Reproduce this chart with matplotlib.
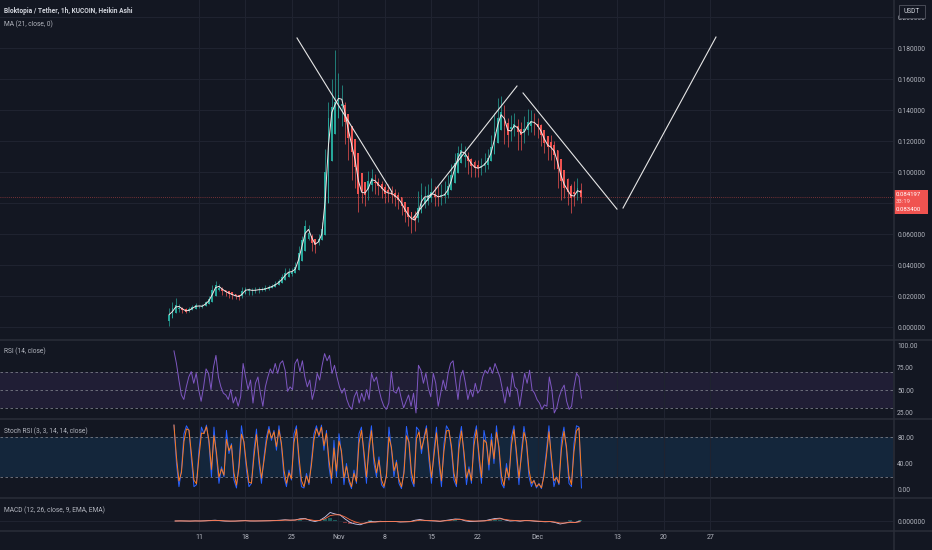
import numpy as np
import pandas as pd
import matplotlib
matplotlib.use('Agg')
import matplotlib.pyplot as plt
from matplotlib.patches import Rectangle
from matplotlib.lines import Line2D

plt.rcParams['font.family'] = ['Roboto', 'DejaVu Sans']

# ---- data (days counted from Oct 11; candles every 12 h) ----
candle_start = -4.5
candle_step = 0.5
first_open = 0.004
closes = [0.008, 0.012, 0.014, 0.0125, 0.011, 0.010, 0.0115, 0.0128, 0.014, 0.0132,
          0.0138, 0.016, 0.018, 0.024, 0.027, 0.0255, 0.0235, 0.0224, 0.0215, 0.0205,
          0.0198, 0.0195, 0.023, 0.0245, 0.0238, 0.0235, 0.024, 0.0242, 0.0242, 0.025,
          0.0258, 0.0265, 0.028, 0.0295, 0.032, 0.035, 0.0358, 0.0358, 0.039, 0.048,
          0.056, 0.065, 0.061, 0.054, 0.053, 0.057, 0.063, 0.100, 0.135, 0.142,
          0.145, 0.150, 0.144, 0.132, 0.122, 0.113, 0.103, 0.086, 0.088, 0.085,
          0.094, 0.096, 0.093, 0.091, 0.089, 0.086, 0.087, 0.0855, 0.084, 0.082,
          0.078, 0.074, 0.071, 0.069, 0.069, 0.077, 0.085, 0.083, 0.085, 0.087,
          0.084, 0.084, 0.085, 0.086, 0.091, 0.098, 0.106, 0.112, 0.114, 0.111,
          0.107, 0.104, 0.1025, 0.1025, 0.104, 0.106, 0.109, 0.116, 0.126, 0.135,
          0.139, 0.130, 0.124, 0.129, 0.131, 0.126, 0.124, 0.128, 0.132, 0.133,
          0.131, 0.129, 0.124, 0.119, 0.116, 0.116, 0.111, 0.102, 0.094, 0.090,
          0.087, 0.083, 0.086, 0.090, 0.0842]
highs = [0.012, 0.016, 0.019, 0.015, 0.013, 0.012, 0.013, 0.014, 0.0155, 0.0145,
         0.015, 0.017, 0.020, 0.027, 0.0297, 0.028, 0.026, 0.024, 0.023, 0.022,
         0.021, 0.021, 0.026, 0.026, 0.025, 0.025, 0.026, 0.026, 0.026, 0.027,
         0.027, 0.028, 0.030, 0.031, 0.034, 0.038, 0.038, 0.038, 0.042, 0.052,
         0.059, 0.069, 0.066, 0.060, 0.057, 0.060, 0.068, 0.115, 0.145, 0.160,
         0.179, 0.164, 0.156, 0.145, 0.135, 0.128, 0.118, 0.103, 0.098, 0.093,
         0.101, 0.102, 0.099, 0.096, 0.094, 0.092, 0.092, 0.091, 0.089, 0.087,
         0.084, 0.080, 0.076, 0.074, 0.075, 0.088, 0.093, 0.091, 0.092, 0.096,
         0.091, 0.091, 0.092, 0.094, 0.098, 0.105, 0.112, 0.117, 0.119, 0.117,
         0.113, 0.109, 0.108, 0.108, 0.109, 0.112, 0.115, 0.124, 0.138, 0.148,
         0.149, 0.143, 0.135, 0.137, 0.138, 0.134, 0.132, 0.136, 0.141, 0.140,
         0.138, 0.135, 0.131, 0.127, 0.123, 0.124, 0.120, 0.113, 0.104, 0.099,
         0.096, 0.092, 0.094, 0.096, 0.093]
lows = [0.001, 0.009, 0.011, 0.010, 0.009, 0.009, 0.010, 0.011, 0.012, 0.012,
        0.012, 0.014, 0.016, 0.018, 0.024, 0.023, 0.021, 0.020, 0.019, 0.018,
        0.018, 0.0175, 0.019, 0.022, 0.021, 0.021, 0.022, 0.022, 0.023, 0.023,
        0.024, 0.025, 0.026, 0.027, 0.029, 0.032, 0.033, 0.033, 0.035, 0.038,
        0.047, 0.055, 0.056, 0.049, 0.048, 0.053, 0.058, 0.063, 0.095, 0.125,
        0.135, 0.138, 0.130, 0.118, 0.108, 0.095, 0.090, 0.074, 0.080, 0.078,
        0.082, 0.088, 0.086, 0.085, 0.083, 0.080, 0.081, 0.080, 0.078, 0.076,
        0.072, 0.068, 0.065, 0.061, 0.062, 0.068, 0.076, 0.077, 0.079, 0.081,
        0.078, 0.078, 0.079, 0.080, 0.083, 0.090, 0.098, 0.104, 0.106, 0.103,
        0.099, 0.097, 0.097, 0.097, 0.098, 0.100, 0.102, 0.108, 0.115, 0.125,
        0.130, 0.118, 0.116, 0.120, 0.123, 0.114, 0.114, 0.119, 0.124, 0.126,
        0.124, 0.122, 0.117, 0.112, 0.108, 0.108, 0.102, 0.090, 0.082, 0.083,
        0.079, 0.0735, 0.078, 0.082, 0.080]
last_price = 0.084197
ma_value = 0.083400

# hand-drawn trend lines: (day0, price0, day1, price1)
trend_lines = [(14.76, 0.1865, 29.07, 0.0871),
               (32.23, 0.0703, 47.89, 0.1555),
               (48.80, 0.1510, 62.95, 0.0761),
               (63.86, 0.0768, 77.86, 0.1871)]

rsi_range = (-3.77, 57.6)
rsi = [94, 80, 61.6, 45, 40, 54, 65, 71, 58, 69,
       51, 38, 54, 74, 69, 51, 76, 89, 65, 54,
       47, 45, 40, 51, 36, 43, 32.5, 43, 80, 65,
       51, 61.6, 36, 58, 65, 47, 32.5, 54, 65, 74,
       69, 80, 69, 80, 83, 72.5, 49, 54, 51, 80,
       85, 71, 83, 65, 54, 61.6, 40, 51, 69, 61.6,
       78, 91, 83, 89, 69, 78, 65, 54, 47, 52.5,
       40, 32.5, 29, 43, 49, 36, 47, 38, 51, 40,
       69, 60, 65, 51, 40, 32.5, 29, 36, 71, 49,
       47, 54, 41.6, 30.7, 38, 45, 32.5, 47, 25, 78,
       72.5, 58, 69, 52.5, 43, 69, 58, 32.5, 47, 61.6,
       51, 69, 80, 83, 61.6, 40, 65, 72.5, 58, 40,
       51, 43, 58, 47, 51, 65, 72.5, 69, 76, 69,
       80, 72.5, 65, 51, 36, 54, 43, 69, 54, 51,
       32.5, 51, 69, 58, 72.5, 51, 47, 40, 36, 29,
       34, 32.5, 65, 51, 25, 30.7, 43, 51, 56, 38,
       29, 32.5, 54, 69, 65, 41.6]

stoch_range = (-3.77, 57.6)
stoch_k = [98, 40, 5, 30, 85, 97, 90, 45, 5, 8,
           60, 95, 85, 98, 70, 20, 95, 50, 10, 35,
           20, 90, 55, 70, 15, 3, 40, 97, 70, 30,
           5, 10, 60, 92, 40, 10, 50, 80, 96, 75,
           90, 60, 97, 65, 20, 5, 30, 15, 85, 97,
           40, 5, 3, 25, 8, 45, 85, 97, 80, 98,
           60, 90, 35, 10, 75, 20, 85, 55, 8, 40,
           12, 2, 30, 10, 85, 95, 50, 10, 70, 97,
           40, 20, 50, 8, 3, 25, 95, 60, 20, 45,
           10, 2, 30, 96, 70, 15, 5, 95, 90, 55,
           80, 97, 45, 10, 60, 95, 40, 5, 70, 97,
           90, 60, 15, 5, 75, 96, 50, 8, 35, 10,
           80, 97, 45, 10, 90, 70, 30, 85, 40, 97,
           60, 10, 3, 40, 15, 80, 97, 50, 8, 60,
           96, 70, 20, 5, 15, 3, 10, 2, 25, 60,
           97, 40, 5, 20, 8, 75, 95, 60, 10, 5,
           70, 97, 95, 3]

macd_range = (-3.6, 57.4)
macd = [0.0, 0.1, 0.0, -0.1, 0.1, 0.0, 0.2, 0.5, 0.8, 0.3,
        -0.1, -0.2, -0.1, 0.2, 0.4, 0.0, 0.0, 0.1, 0.2, 0.3,
        0.5, 0.8, 1.2, 0.8, 1.0, 2.2, 2.5, 0.5, -0.5, 0.8,
        4.0, 8.5, 7.0, 6.0, 2.0, -1.5, -3.0, -3.8, -2.0, -0.5,
        -0.8, -0.3, -0.6, -0.4, -0.5, -1.0, -0.8, -0.6, 0.8, 1.5,
        0.5, 0.2, 0.0, -0.4, 0.5, 1.2, 2.0, 1.8, 0.2, -0.5,
        -0.3, 0.0, 0.3, 1.5, 2.5, 2.8, 1.0, 0.0, 0.3, -0.2,
        0.5, 0.3, -0.2, -0.5, -0.8, -0.6, -1.5, -3.0, -2.0, -1.0,
        -1.5, 0.0]  # in thousandths of USDT

date_ticks = [0, 7, 14, 21, 28, 35, 42, 51, 63, 70, 77]
date_labels = ['11', '18', '25', 'Nov', '8', '15', '22', 'Dec', '13', '20', '27']
price_ticks = [0.0, 0.02, 0.04, 0.06, 0.08, 0.10, 0.12, 0.14, 0.16, 0.18, 0.20]

# ---- style ----
BG = '#131722'
GRID = '#1f2330'
SEP = '#2a2e39'
TXT = '#b2b5be'
UP, DOWN = '#26a69a', '#ef5350'
W, H = 932, 550
XLIM = (-29.97, 104.52)

fig = plt.figure(figsize=(W / 100, H / 100), dpi=100, facecolor=BG)


def panel(top, bottom):
    ax = fig.add_axes([0, 1 - bottom / H, 893 / W, (bottom - top) / H])
    ax.set_facecolor(BG)
    for s in ax.spines.values():
        s.set_visible(False)
    ax.set_xlim(*XLIM)
    ax.set_xticks(date_ticks)
    ax.grid(True, axis='x', color=GRID, lw=0.8)
    ax.yaxis.tick_right()
    ax.tick_params(axis='y', length=0, pad=3, labelsize=4.8, labelcolor=TXT)
    ax.tick_params(axis='x', length=0, labelbottom=False)
    return ax


# ---- price panel ----
ax = panel(0, 339)
ax.set_ylim(-0.0077, 0.211)
ax.set_yticks(price_ticks)
# 0.080000 sits under the last-price tag, so it gets no label
ax.set_yticklabels(['' if abs(v - 0.08) < 1e-9 else '%.6f' % v for v in price_ticks])
ax.grid(True, axis='y', color=GRID, lw=0.8)

closes = np.array(closes)
highs = np.array(highs)
lows = np.array(lows)
days = candle_start + candle_step * np.arange(len(closes))
opens = np.empty_like(closes)
opens[0] = first_open
for i in range(1, len(closes)):
    opens[i] = (opens[i - 1] + closes[i - 1]) / 2
hi = np.maximum(highs, np.maximum(opens, closes))
lo = np.minimum(lows, np.minimum(opens, closes))
colors = np.where(closes >= opens, UP, DOWN)

ax.vlines(days, lo, hi, colors=colors, lw=0.5, zorder=3)
ax.bar(days, np.abs(closes - opens), bottom=np.minimum(opens, closes),
       width=candle_step * 0.55, color=colors, zorder=3, linewidth=0)
ma = pd.Series(closes).rolling(2, min_periods=1).mean()
ax.plot(days, ma, color='#f3e6e6', lw=0.7, zorder=4)

for d0, p0, d1, p1 in trend_lines:
    ax.plot([d0, d1], [p0, p1], color='#e6e6e6', lw=0.8, zorder=5)

ax.axhline(last_price, color=DOWN, lw=0.6, ls=(0, (1, 1.5)), alpha=0.6, zorder=2)

# ---- RSI panel ----
ax_rsi = panel(341, 418)
ax_rsi.set_ylim(19.4, 105)
ax_rsi.set_yticks([25, 50, 75, 100])
ax_rsi.set_yticklabels(['25.00', '50.00', '75.00', '100.00'])
ax_rsi.axhspan(30, 70, color='#7e57c2', alpha=0.12, lw=0)
for lvl in (30, 50, 70):
    ax_rsi.axhline(lvl, color='#787b86', lw=0.6, ls=(0, (3, 3)))
rsi_days = np.linspace(rsi_range[0], rsi_range[1], len(rsi))
ax_rsi.plot(rsi_days, rsi, color='#7e57c2', lw=0.7)

# ---- Stoch RSI panel ----
ax_st = panel(420, 497)
ax_st.set_ylim(-10.6, 105.7)
ax_st.set_yticks([0, 40, 80])
ax_st.set_yticklabels(['0.00', '40.00', '80.00'])
ax_st.axhspan(20, 80, color='#2196f3', alpha=0.12, lw=0)
for lvl in (20, 80):
    ax_st.axhline(lvl, color='#787b86', lw=0.6, ls=(0, (3, 3)))
st_days = np.linspace(stoch_range[0], stoch_range[1], len(stoch_k))
stoch_d = pd.Series(stoch_k).ewm(alpha=0.8).mean()
ax_st.plot(st_days, stoch_k, color='#2962ff', lw=0.7)
ax_st.plot(st_days, stoch_d, color='#ff7a1a', lw=0.7)

# ---- MACD panel ----
ax_m = panel(499, 530)
ax_m.set_ylim(-0.009, 0.022)
ax_m.set_yticks([0.0])
ax_m.set_yticklabels(['0.000000'])
ax_m.grid(True, axis='y', color=GRID, lw=0.8)
m = pd.Series(macd) / 1000
sig = m.ewm(span=3).mean()
m_days = np.linspace(macd_range[0], macd_range[1], len(macd))
hist = m - sig
ax_m.bar(m_days, hist, width=0.5, color=np.where(hist >= 0, '#26a69a', '#ef5350'), alpha=0.5, lw=0)
ax_m.plot(m_days, m, color='#c9cdf5', lw=0.6)
ax_m.plot(m_days, sig, color='#ff7043', lw=0.6)
ax_m.set_xticklabels(date_labels)
ax_m.tick_params(axis='x', labelbottom=True, pad=3, labelsize=5, labelcolor=TXT)

# ---- separators ----
for y in (340, 419, 498, 530.5):
    fig.add_artist(Line2D([0, 1], [1 - y / H] * 2, color=SEP, lw=1.1))
fig.add_artist(Line2D([893.5 / W] * 2, [0, 1], color=SEP, lw=1.1))


def ftext(x, y, s, **kw):
    kw.setdefault('fontsize', 4.8)
    kw.setdefault('color', TXT)
    fig.text(x / W, 1 - y / H, s, va='center', **kw)


# ---- legends / labels ----
ftext(4, 11, 'Bloktopia / Tether, 1h, KUCOIN, Heikin Ashi', color='#d1d4dc', fontweight='bold')
ftext(4, 24, 'MA (21, close, 0)')
ftext(4, 351, 'RSI (14, close)')
ftext(4, 431, 'Stoch RSI (3, 3, 14, 14, close)')
ftext(4, 510, 'MACD (12, 26, close, 9, EMA, EMA)')

# USDT box
fig.add_artist(Rectangle((899 / W, 1 - 18 / H), 26 / W, 13 / H, transform=fig.transFigure,
                         facecolor=BG, edgecolor='#50535e', lw=0.6))
ftext(912, 11.5, 'USDT', ha='center', color='#d1d4dc')

# last price tag
fig.add_artist(Rectangle((893.5 / W, 1 - 214 / H), 34.5 / W, 24 / H, transform=fig.transFigure,
                         facecolor='#f05350', edgecolor='none'))
ftext(896, 194.5, '%.6f' % last_price, color='white', fontsize=4.3)
ftext(896, 202, '33:19', color='#ffd2d2', fontsize=4.3)
ftext(896, 209.5, '%.6f' % ma_value, color='white', fontsize=4.3)

fig.savefig('out.png', dpi=100, facecolor=BG)
